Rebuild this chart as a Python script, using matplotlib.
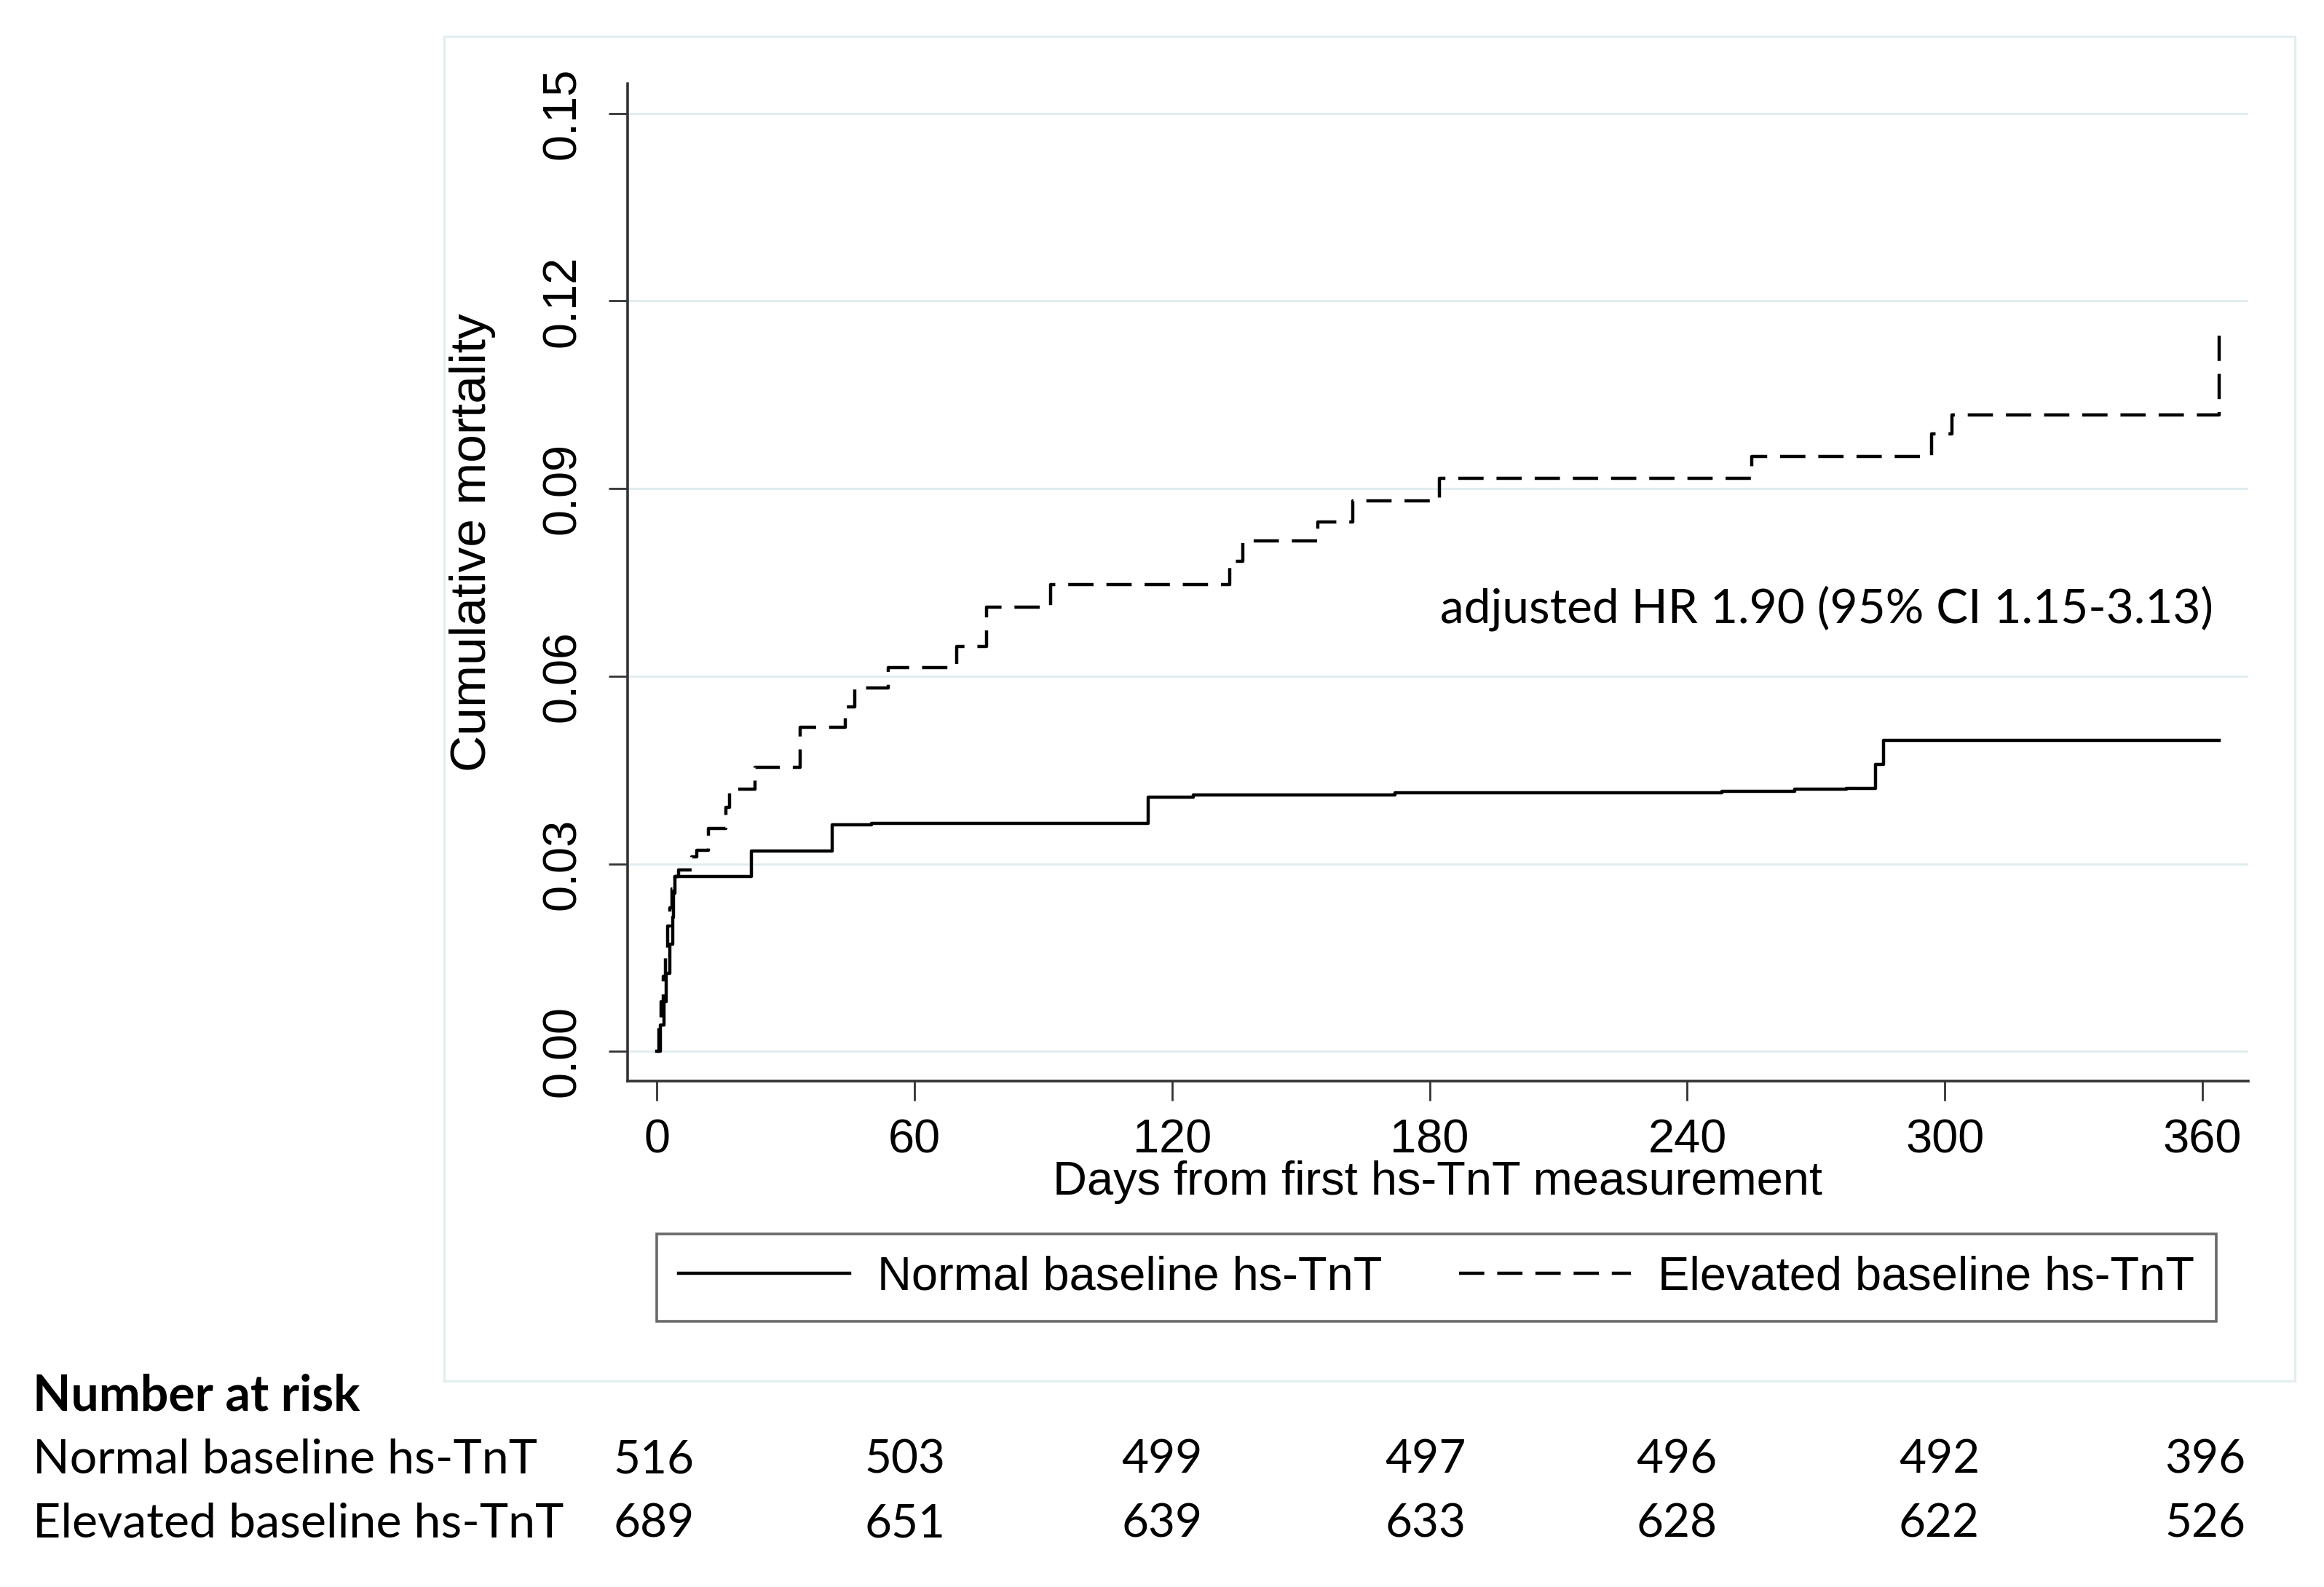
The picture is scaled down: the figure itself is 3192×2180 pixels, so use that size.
import matplotlib
matplotlib.use("Agg")
import matplotlib.pyplot as plt
from matplotlib.patches import Rectangle
import matplotlib.transforms as mtransforms

# ---------------- data ----------------
normal_days = [0, 0.75, 1.6, 2.2, 3.0, 3.6, 3.9, 4.1, 21.9, 40.8, 50, 114.5, 125,
               172, 248, 265, 277, 283.9, 285.7, 364]
normal_cum = [0, 0.0042, 0.008, 0.0125, 0.0171, 0.0214, 0.0253, 0.028, 0.032, 0.0362,
              0.0365, 0.0407, 0.041, 0.0414, 0.0416, 0.0419, 0.0421, 0.0459, 0.0498, 0.0498]

elevated_days = [0, 0.5, 1.0, 1.5, 2.0, 2.5, 3.0, 3.5, 4.1, 5.0, 8.0, 9.3, 12.0, 16.0,
                 16.9, 22.9, 33.4, 43.8, 46.0, 53.8, 69.8, 76.7, 91.7, 133.4, 136.4,
                 153.9, 162.0, 182.3, 255.0, 297.0, 301.7, 364.0]
elevated_cum = [0, 0.004, 0.008, 0.012, 0.016, 0.020, 0.023, 0.026, 0.028, 0.029,
                0.0311, 0.0322, 0.0357, 0.039, 0.0419, 0.0454, 0.0518, 0.0551, 0.0581,
                0.0614, 0.0648, 0.0711, 0.0746, 0.0784, 0.0816, 0.0847, 0.0880, 0.0916,
                0.0952, 0.0987, 0.1018, 0.1164]

x_ticks = [0, 60, 120, 180, 240, 300, 360]
y_ticks = [0.00, 0.03, 0.06, 0.09, 0.12, 0.15]
y_tick_labels = ["0.00", "0.03", "0.06", "0.09", "0.12", "0.15"]

series_labels = ["Normal baseline hs-TnT", "Elevated baseline hs-TnT"]
risk_normal = [516, 503, 499, 497, 496, 492, 396]
risk_elevated = [689, 651, 639, 633, 628, 622, 526]

annotation = "adjusted HR 1.90 (95% CI 1.15-3.13)"
x_label = "Days from first hs-TnT measurement"
y_label = "Cumulative mortality"

# column centres of the risk table (in day units, layout only)
risk_col_x = [-0.7, 57.8, 117.7, 179.0, 237.5, 298.7, 360.7]

# ---------------- figure ----------------
W, H = 3192, 2180
DPI = 200
fig = plt.figure(figsize=(W / DPI, H / DPI), dpi=DPI, facecolor="white")

AX_FONT = "Liberation Sans"
TAB_FONT = "Lato"
FS = 23.4
grid_col = "#e1ecef"
axis_col = "#333333"

# outer light panel
panel = Rectangle((610 / W, 1 - 1897 / H), (3152 - 610) / W, (1897 - 50) / H,
                  transform=fig.transFigure, facecolor="white",
                  edgecolor="#e4eef0", linewidth=1.2, zorder=0)
fig.add_artist(panel)

ax = fig.add_axes([862 / W, 1 - 1485 / H, (3088 - 862) / W, (1485 - 115) / H])
ax.set_facecolor("none")
ax.set_xlim(-6.85, 370.7)
ax.set_ylim(-0.00474, 0.15475)

for s in ["top", "right"]:
    ax.spines[s].set_visible(False)
for s in ["left", "bottom"]:
    ax.spines[s].set_color(axis_col)
    ax.spines[s].set_linewidth(1.3)

ax.set_yticks(y_ticks)
ax.set_yticklabels(y_tick_labels, rotation=90, va="center",
                   fontfamily=AX_FONT, fontsize=FS)
ax.set_xticks(x_ticks)
ax.set_xticklabels([str(v) for v in x_ticks], fontfamily=AX_FONT, fontsize=FS)
ax.tick_params(axis="y", length=9.4, width=1.0, color=axis_col, pad=12)
ax.tick_params(axis="x", length=9.7, width=1.0, color=axis_col, pad=9)

ax.yaxis.grid(True, color=grid_col, linewidth=1.1)
ax.set_axisbelow(True)

ax.set_xlabel(x_label, fontfamily=AX_FONT, fontsize=FS, labelpad=-1)
ax.set_ylabel(y_label, fontfamily=AX_FONT, fontsize=25, va="center")
ax.yaxis.set_label_coords(-0.0957, 0.54)

l1, = ax.step(normal_days, normal_cum, where="post", color="black",
              linewidth=1.6, label=series_labels[0], zorder=3)
l2, = ax.step(elevated_days, elevated_cum, where="post", color="black",
              linewidth=1.6, label=series_labels[1], zorder=3)
l2.set_dashes((7.8, 4.0))

ax.text(362.6, 0.0686, annotation, ha="right", va="baseline",
        fontfamily=TAB_FONT, fontsize=23.66)

leg = ax.legend(handles=[l1, l2], labels=series_labels, ncol=2,
                loc="center", bbox_to_anchor=(1973 / W, 1 - 1755 / H),
                bbox_transform=fig.transFigure, frameon=True, fancybox=False,
                handlelength=3.62, handletextpad=0.58, columnspacing=1.63,
                borderpad=0.46, prop={"family": AX_FONT, "size": FS})
leg.get_frame().set_edgecolor("#444444")
leg.get_frame().set_linewidth(1.3)

# number at risk table
fig.text(45 / W, 1 - 1937 / H, "Number at risk", fontfamily=TAB_FONT,
         fontweight="bold", fontsize=24.5, ha="left", va="baseline")
row_y = [1 - 2023 / H, 1 - 2112 / H]
fig.text(45 / W, row_y[0], series_labels[0], fontfamily=TAB_FONT, fontsize=23.9,
         ha="left", va="baseline")
fig.text(45 / W, row_y[1], series_labels[1], fontfamily=TAB_FONT, fontsize=23.9,
         ha="left", va="baseline")
trans = mtransforms.blended_transform_factory(ax.transData, fig.transFigure)
for xv, n in zip(risk_col_x, risk_normal):
    ax.text(xv, row_y[0], str(n), transform=trans, ha="center", va="baseline",
            fontfamily=TAB_FONT, fontsize=23, clip_on=False)
for xv, n in zip(risk_col_x, risk_elevated):
    ax.text(xv, row_y[1], str(n), transform=trans, ha="center", va="baseline",
            fontfamily=TAB_FONT, fontsize=23, clip_on=False)

fig.savefig("out.png", dpi=DPI, facecolor="white")
